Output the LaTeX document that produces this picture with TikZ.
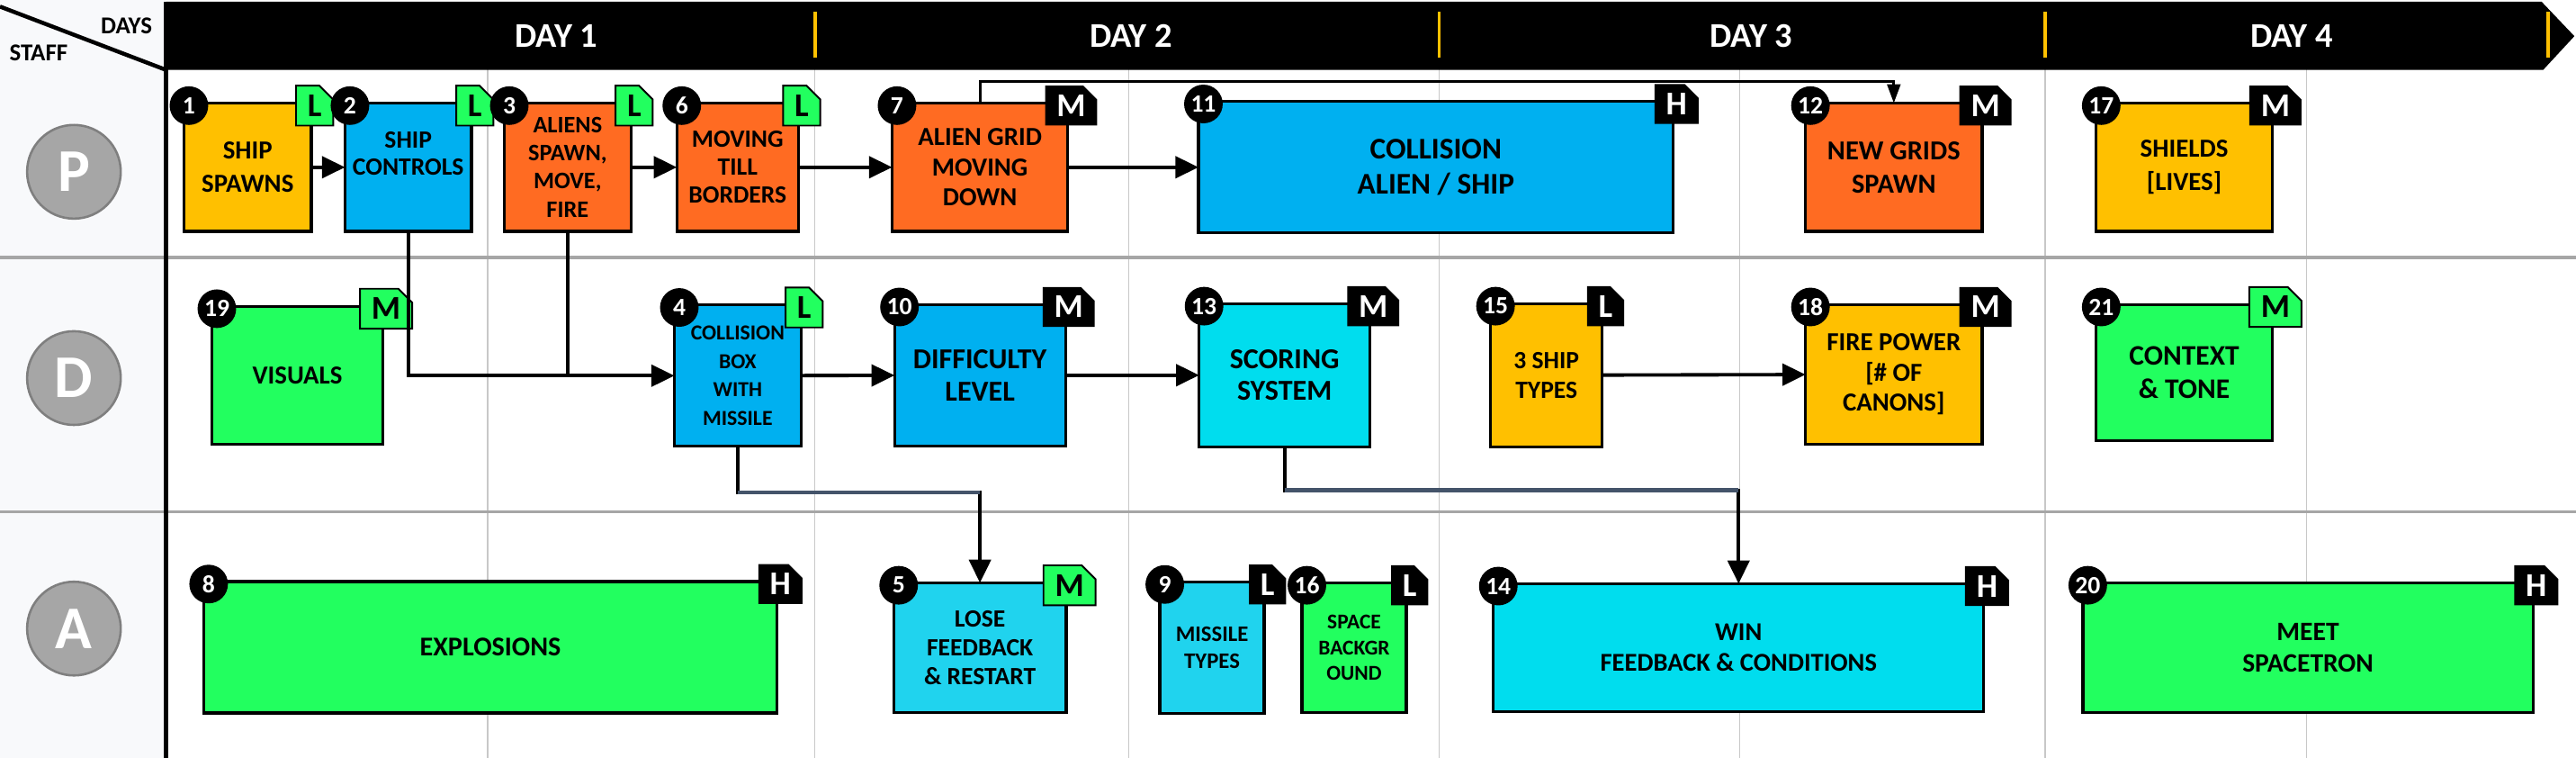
\documentclass[tikz,border=0pt]{standalone}
\usepackage{fontspec}
\setmainfont{Carlito}
\usepackage{tikz}
\usetikzlibrary{arrows.meta, positioning, shapes.misc}
\definecolor{taskyellow}{RGB}{255, 192, 0}
\definecolor{taskblue}{RGB}{0, 176, 240}
\definecolor{taskorange}{RGB}{255, 107, 34}
\definecolor{taskgreen}{RGB}{34, 255, 95}
\definecolor{taskcyan}{RGB}{0, 221, 238}
\definecolor{tasksky}{RGB}{32, 211, 238}
\definecolor{staffgray}{RGB}{166, 166, 166}
\definecolor{staffedge}{RGB}{127, 127, 127}
\definecolor{gridgray}{RGB}{200, 200, 200}
\definecolor{rowgray}{RGB}{166, 166, 166}
\definecolor{tickgold}{RGB}{255, 192, 0}
\definecolor{slate}{RGB}{68, 84, 106}
\definecolor{sidebg}{RGB}{248, 249, 251}

\newlength{\pxu}
\setlength{\pxu}{0.02cm}
\newcommand{\boxfont}[2]{\fontsize{#1}{#2}\selectfont\bfseries}

\begin{document}
\begin{tikzpicture}[
    x=0.02cm, y=-0.02cm,
    task/.style={rectangle, draw, line width=1pt, outer sep=0pt, align=center, inner sep=1pt, minimum height=78\pxu},
    tasknum/.style={label={[circle, fill=black, text=white, inner sep=0pt, minimum size=23.5\pxu, font=\boxfont{8.6}{9}, anchor=center, xshift=3\pxu, yshift=-1.5\pxu]north west:#1}},
    tagbox/.style={chamfered rectangle, chamfered rectangle corners=north east, chamfered rectangle xsep=1.6pt, inner xsep=2.4pt, inner ysep=0pt, minimum width=22\pxu, minimum height=22\pxu, line width=0.6pt, anchor=center, shift={(2,1.5)}, font=\boxfont{11.5}{11.5}},
    greentag/.style={label={[tagbox, fill=taskgreen, draw=black, text=black]north east:#1}},
    blacktag/.style={label={[tagbox, fill=black, text=white]north east:#1}},
    staffdot/.style={circle, fill=staffgray, draw=staffedge, line width=0.8pt, minimum size=57\pxu, inner sep=0pt, text=white, font=\boxfont{21}{21}},
    daylabel/.style={text=white, font=\boxfont{12}{13}},
    gridline/.style={gridgray, line width=0.5pt},
    rowline/.style={rowgray, line width=1pt},
    daytick/.style={tickgold, line width=1.2pt},
    arrow/.style={-{Triangle[length=8pt, width=7.5pt]}, line width=1.2pt},
    thinarrow/.style={-{Triangle[length=6.5pt, width=4.5pt]}, line width=1pt},
    link/.style={line width=1.2pt},
    slatelink/.style={slate, line width=1.5pt}
]
\useasboundingbox (0,0) rectangle (1568,461);

% Grid
\fill[sidebg] (0,0) rectangle (101,461);
\draw[gridline] (297,42) -- (297,461) (496,42) -- (496,461) (687,42) -- (687,461) (876,42) -- (876,461)
    (1059,42) -- (1059,461) (1245,42) -- (1245,461) (1404,42) -- (1404,461);
\draw[rowline] (0,156.6) -- (1568,156.6) (0,311.5) -- (1568,311.5);

% Days header
\fill (101,1) -- (1547,1) -- (1567,22) -- (1548,42.5) -- (101,42.5) -- cycle;
\draw[daytick] (496,7) -- (496,35) (876,7) -- (876,35) (1245,7) -- (1245,35) (1551,7) -- (1551,35);
\node[daylabel] (day1) at (338.7,22) {DAY 1};
\node[daylabel] (day2) at (688.4,22) {DAY 2};
\node[daylabel] (day3) at (1066,22) {DAY 3};
\node[daylabel] (day4) at (1395,22) {DAY 4};
\draw[line width=1.4pt] (0,4) -- (101,42.5);
\draw[line width=1.4pt] (101,1) -- (101,461);
\node[font=\boxfont{8.4}{9}] (dayshead) at (77,15.5) {DAYS};
\node[font=\boxfont{8.4}{9}] (staffhead) at (23.5,32) {STAFF};

% Staff
\node[staffdot] (rowP) at (45,104.5) {P};
\node[staffdot] (rowD) at (45,230) {D};
\node[staffdot] (rowA) at (45,382.4) {A};

% Row P
\node[task, fill=taskyellow, minimum width=77.5\pxu, font=\boxfont{9}{11.4}, tasknum=1, greentag=L] (n1) at (150.75,101.75) {SHIP\\SPAWNS};
\node[task, fill=taskblue, minimum width=77\pxu, font=\boxfont{8.6}{9.4}, tasknum=2, greentag=L, right=20.5\pxu of n1] (n2) {SHIP\\CONTROLS\\\mbox{}};
\node[task, fill=taskorange, minimum width=77\pxu, font=\boxfont{8.2}{9.7}, tasknum=3, greentag=L, right=20\pxu of n2] (n3) {ALIENS\\SPAWN,\\MOVE,\\FIRE};
\node[task, fill=taskorange, minimum width=74\pxu, font=\boxfont{8.6}{9.7}, tasknum=6, greentag=L, right=28\pxu of n3] (n6) {MOVING\\TILL\\BORDERS};
\node[task, fill=taskorange, minimum width=107\pxu, font=\boxfont{9}{10.4}, tasknum=7, blacktag=M, right=57\pxu of n6] (n7) {ALIEN GRID\\MOVING\\DOWN};
\node[task, fill=taskblue, minimum width=289\pxu, minimum height=80\pxu, font=\boxfont{10.4}{11.9}, tasknum=11, blacktag=H, right=79.5\pxu of n7] (n11) {COLLISION\\ALIEN / SHIP};
\node[task, fill=taskorange, minimum width=107.5\pxu, font=\boxfont{9.5}{11.6}, tasknum=12, blacktag=M, right=80.5\pxu of n11] (n12) {NEW GRIDS\\SPAWN};
\node[task, fill=taskyellow, minimum width=107\pxu, font=\boxfont{9}{11.4}, tasknum=17, blacktag=M, right=69.5\pxu of n12] (n17) {SHIELDS\\{[LIVES]}};

% Row D
\node[task, fill=taskgreen, minimum width=104\pxu, minimum height=84\pxu, font=\boxfont{9}{10}, tasknum=19, greentag=M] (n19) at (181,228.3) {VISUALS};
\node[task, fill=taskblue, minimum width=77\pxu, minimum height=86\pxu, font=\boxfont{7.4}{9.8}, tasknum=4, greentag=L, below=44.8\pxu of n6] (n4) {COLLISION\\BOX\\WITH\\MISSILE};
\node[task, fill=taskblue, minimum width=104\pxu, minimum height=86\pxu, font=\boxfont{10}{11.1}, tasknum=10, blacktag=M, below=44.5\pxu of n7] (n10) {DIFFICULTY\\LEVEL};
\node[task, fill=taskcyan, minimum width=104\pxu, minimum height=87\pxu, font=\boxfont{10}{11.1}, tasknum=13, blacktag=M, right=81.4\pxu of n10] (n13) {SCORING\\SYSTEM};
\node[task, fill=taskyellow, minimum width=68\pxu, minimum height=87\pxu, font=\boxfont{8.6}{10.4}, tasknum=15, blacktag=L, right=73.4\pxu of n13] (n15) {3 SHIP\\TYPES};
\node[task, fill=taskyellow, minimum width=107.5\pxu, minimum height=85\pxu, font=\boxfont{9}{10.4}, tasknum=18, blacktag=M, below=44.5\pxu of n12] (n18) {FIRE POWER\\{[\# OF}\\CANONS]};
\node[task, fill=taskgreen, minimum width=107\pxu, minimum height=83\pxu, font=\boxfont{9.8}{11.4}, tasknum=21, greentag=M, below=44.5\pxu of n17] (n21) {CONTEXT\\\& TONE};

% Row A
\node[task, fill=taskgreen, minimum width=349\pxu, minimum height=80\pxu, font=\boxfont{9.4}{10}, tasknum=8, blacktag=H] (n8) at (298.5,393.8) {EXPLOSIONS};
\node[task, fill=tasksky, minimum width=105\pxu, minimum height=79\pxu, font=\boxfont{8.6}{9.9}, tasknum=5, greentag=M, below=83.3\pxu of n10] (n5) {LOSE\\FEEDBACK\\\& RESTART};
\node[task, fill=tasksky, minimum width=63.5\pxu, minimum height=80\pxu, font=\boxfont{7.7}{9.3}, tasknum=9, blacktag=L, right=57\pxu of n5] (n9) {MISSILE\\TYPES};
\node[task, fill=taskgreen, minimum width=63.5\pxu, minimum height=79\pxu, font=\boxfont{7.3}{9}, tasknum=16, blacktag=L, right=23\pxu of n9] (n16) {SPACE\\BACKGR\\OUND};
\node[task, fill=taskcyan, minimum width=298.5\pxu, minimum height=78\pxu, font=\boxfont{8.9}{10.4}, tasknum=14, blacktag=H, right=53\pxu of n16] (n14) {WIN\\FEEDBACK \& CONDITIONS};
\node[task, fill=taskgreen, minimum width=274\pxu, minimum height=79\pxu, font=\boxfont{9.2}{10.9}, tasknum=20, blacktag=H, right=60.3\pxu of n14] (n20) {MEET\\SPACETRON};

% Connectors
\draw[arrow] (n1) -- (n2);
\draw[arrow] (n3) -- (n6);
\draw[arrow] (n6) -- (n7);
\draw[arrow] (n7) -- (n11);
\draw[thinarrow] (n7.north) -- ++(0,-13) -| (n12.north);
\draw[arrow] (n2.south) |- (n4.west);
\draw[link] (n3.south) -- (n3.south |- n4.west);
\draw[arrow] (n4) -- (n10);
\draw[arrow] (n10) -- (n13);
\draw[arrow] (n15) -- (n18);
\coordinate (k4) at ([yshift=-28\pxu]n4.south);
\coordinate (k13) at ([yshift=-26.5\pxu]n13.south);
\draw[arrow] (n4.south) -- (k4) -| (n5.north);
\draw[slatelink] (k4) -- (k4 -| n5.north);
\draw[arrow] (n13.south) -- (k13) -| (n14.north);
\draw[slatelink] (k13) -- (k13 -| n14.north);

\end{tikzpicture}
\end{document}
